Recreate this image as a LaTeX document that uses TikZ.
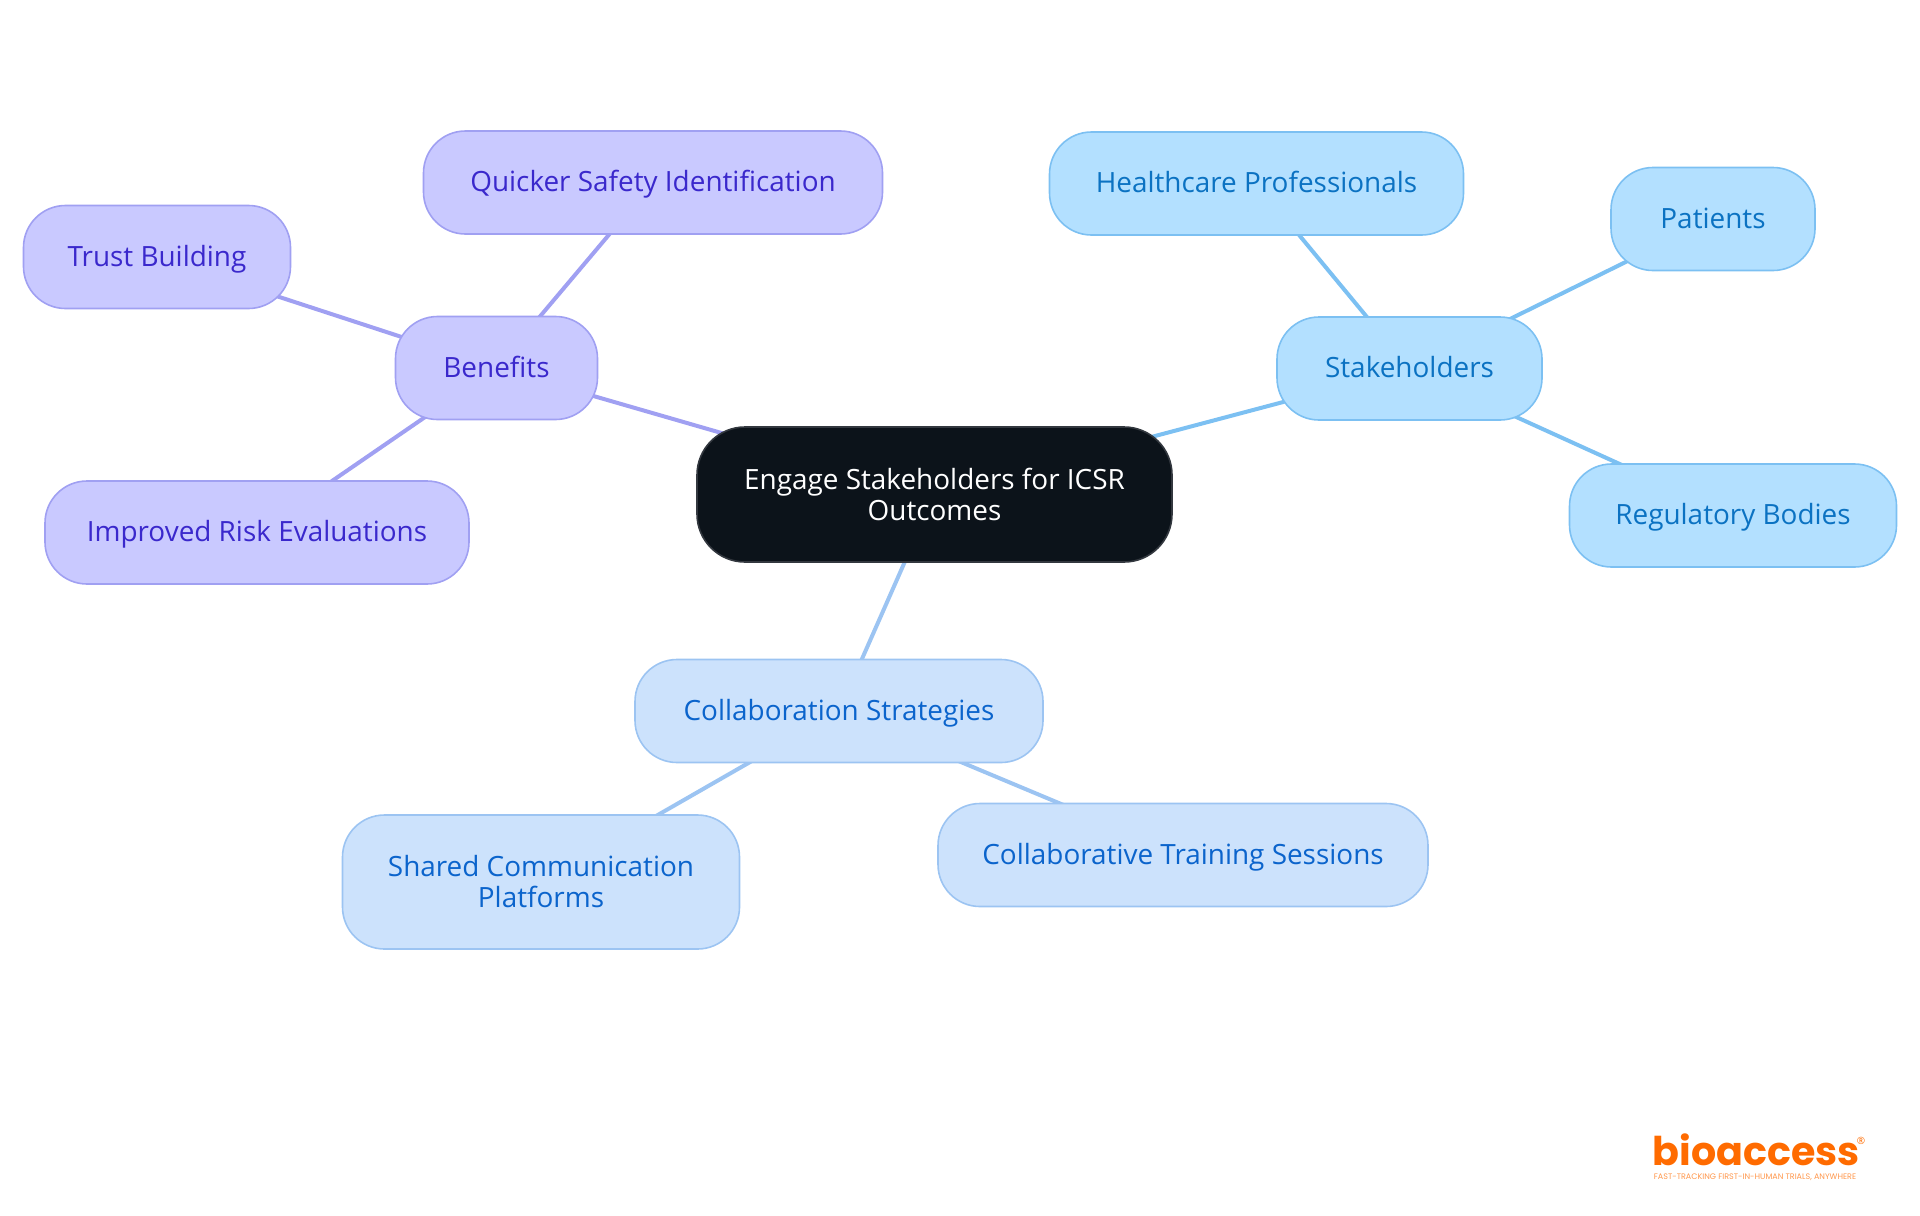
\documentclass[tikz,border=0pt]{standalone}
\usepackage{fontspec}
\setmainfont{Open Sans}
\newfontfamily\logofont{Poppins}
\usetikzlibrary{backgrounds}
\definecolor{rootfill}{HTML}{0C131A}
\definecolor{rootline}{HTML}{33383F}
\definecolor{benefitfill}{HTML}{C9C9FF}
\definecolor{benefitline}{HTML}{A0A0F2}
\definecolor{benefittext}{HTML}{3A28CC}
\definecolor{stakefill}{HTML}{B3E0FF}
\definecolor{stakeline}{HTML}{7CC0F2}
\definecolor{staketext}{HTML}{0B72C2}
\definecolor{collabfill}{HTML}{CCE2FC}
\definecolor{collabline}{HTML}{9CC4F2}
\definecolor{collabtext}{HTML}{0B64CC}
\definecolor{logoorange}{HTML}{FF6B00}
\tikzset{
	mapnode/.style={rounded corners=21pt,align=center,line width=0.8pt,inner sep=0pt,minimum height=51.5pt,font=\fontsize{13.95}{15.5}\selectfont},
	oneline/.style={text height=11.5pt,text depth=2.5pt},
	rootnode/.style={mapnode,rounded corners=24pt,fill=rootfill,draw=rootline,text=white,minimum height=67.5pt,minimum width=237.5pt},
	benefitnode/.style={mapnode,oneline,fill=benefitfill,draw=benefitline,text=benefittext},
	stakenode/.style={mapnode,oneline,fill=stakefill,draw=stakeline,text=staketext},
	collabnode/.style={mapnode,fill=collabfill,draw=collabline,text=collabtext},
	benefitedge/.style={line width=2pt,draw=benefitline},
	stakeedge/.style={line width=2pt,draw=stakeline},
	collabedge/.style={line width=2pt,draw=collabline}
}
\begin{document}
\begin{tikzpicture}[x=0.5pt,y=-0.5pt]
	\useasboundingbox (0,0) rectangle (1920,1215);

	\node[rootnode] (root) at (934.5,494.5) {Engage Stakeholders for ICSR\\Outcomes};

	\node[benefitnode,minimum width=101pt] (benefits) at (496.5,368) {Benefits};
	\node[benefitnode,minimum width=229.5pt] (quicker) at (653,182.5) {Quicker Safety Identification};
	\node[benefitnode,minimum width=133.5pt] (trust) at (157,257) {Trust Building};
	\node[benefitnode,minimum width=212pt] (improved) at (257,532.5) {Improved Risk Evaluations};

	\node[stakenode,minimum width=132.5pt] (stake) at (1409.5,368.5) {Stakeholders};
	\node[stakenode,minimum width=207pt] (health) at (1256.5,183.5) {Healthcare Professionals};
	\node[stakenode,minimum width=102pt] (patients) at (1713,219) {Patients};
	\node[stakenode,minimum width=163.5pt] (regulatory) at (1733,515.5) {Regulatory Bodies};

	\node[collabnode,oneline,minimum width=204pt] (collab) at (839,711) {Collaboration Strategies};
	\node[collabnode,minimum width=198.5pt,minimum height=67pt] (shared) at (541,882) {Shared Communication\\Platforms};
	\node[collabnode,oneline,minimum width=245pt] (training) at (1183,855) {Collaborative Training Sessions};

	% edges stay behind the boxes
	\begin{scope}[on background layer]
		\draw[benefitedge] (root.center) -- (benefits.center);
		\draw[benefitedge] (benefits.center) -- (quicker.center);
		\draw[benefitedge] (benefits.center) -- (trust.center);
		\draw[benefitedge] (benefits.center) -- (improved.center);
		\draw[stakeedge] (root.center) -- (stake.center);
		\draw[stakeedge] (stake.center) -- (health.center);
		\draw[stakeedge] (stake.center) -- (patients.center);
		\draw[stakeedge] (stake.center) -- (regulatory.center);
		\draw[collabedge] (root.center) -- (collab.center);
		\draw[collabedge] (collab.center) -- (shared.center);
		\draw[collabedge] (collab.center) -- (training.center);
	\end{scope}

	% logo
	\node[inner sep=0pt,text=logoorange,font=\logofont\bfseries\fontsize{19.8}{20}\selectfont] (logo) at (1756,1150) {bioaccess};
	\node[inner sep=0pt,text=logoorange,font=\fontsize{5}{5}\selectfont] (reg) at (1861,1141) {®};
	\node[inner sep=0pt,text=logoorange!70,font=\logofont\fontsize{4}{4}\selectfont] (tagline) at (1755,1177.5) {FAST-TRACKING FIRST-IN-HUMAN TRIALS, ANYWHERE};
\end{tikzpicture}
\end{document}
